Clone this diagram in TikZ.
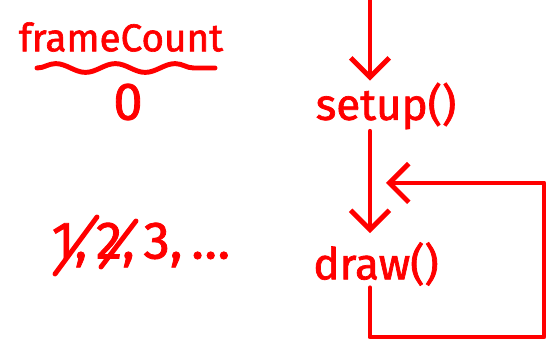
\documentclass[tikz,border=0pt]{standalone}
\usepackage{fontspec}
\setmainfont{Fira Sans}
\newfontfamily\penfont[FakeBold=1.6]{Fira Sans}
\usetikzlibrary{arrows.meta, positioning, decorations.pathmorphing}
\definecolor{pen}{RGB}{255,0,0}
\tikzstyle{ink}=[draw=pen, line width=2.8pt, line cap=round, line join=round]
\tikzstyle{every node}=[text=pen, font=\penfont\fontsize{25}{30}\selectfont, inner sep=1pt]
\tikzstyle{big}=[font=\penfont\fontsize{30}{34}\selectfont]

\begin{document}
\begin{tikzpicture}[x=0.02cm, y=-0.02cm, >={Straight Barb[length=11pt, width=22pt]}]
    \useasboundingbox (0,0) rectangle (556,341);
    % the counter and the values it takes
    \node[font=\penfont\fontsize{22}{26}\selectfont] (count) at (121,37) {frameCount};
    \draw[ink, decorate, decoration={snake, segment length=34pt, amplitude=2.5pt}] (37,68) -- (215,68);
    \node[big] (zero) at (128,102) {0};
    \node[big] (frames) at (141,245) {1,\,2,\,3,\,\dots};
    \draw[ink] (55,274) -- (97,217);
    \draw[ink] (101,267) -- (136,221);
    % program flow
    \coordinate (start) at (370,1);
    \node (setup) at (386,106) {setup()};
    \node (draw) at (376,264) {draw()};
    \coordinate (back) at (386,183);
    \draw[ink, ->] (start) -- (setup.north -| start);
    \draw[ink, ->, shorten >=4pt] (setup.south -| start) -- (draw.north -| start);
    \draw[ink, ->] (draw.south -| start) |- (544,337) |- (back);
\end{tikzpicture}
\end{document}
